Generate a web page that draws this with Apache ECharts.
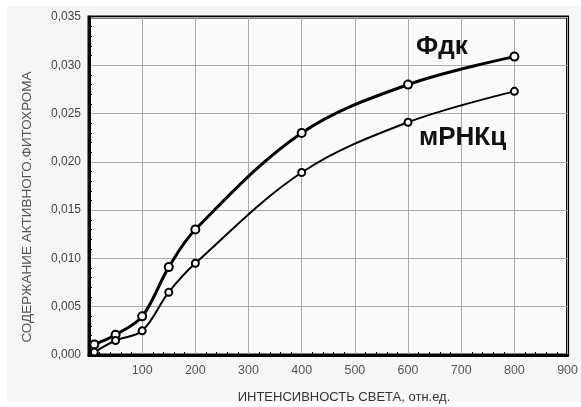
<!DOCTYPE html>
<html><head><meta charset="utf-8">
<script src="https://cdn.jsdelivr.net/npm/echarts@6/dist/echarts.min.js"></script>
<style>html,body{margin:0;padding:0;background:#fff}#c{width:581px;height:407px}</style>
</head><body><div id="c"></div>
<script>
const xValues = [10, 50, 100, 150, 200, 400, 600, 800];
const fdk = [0.0011, 0.0021, 0.0040, 0.0091, 0.0130, 0.0230, 0.0280, 0.0309];
const mrnk = [0.0003, 0.0015, 0.0025, 0.0065, 0.0095, 0.0189, 0.0241, 0.0273];
const seriesNames = ['Фдк', 'мРНКц'];
const xTitle = 'ИНТЕНСИВНОСТЬ СВЕТА, отн.ед.';
const yTitle = 'СОДЕРЖАНИЕ АКТИВНОГО.ФИТОХРОМА';

const chart = echarts.init(document.getElementById('c'), null, {renderer: 'canvas'});
const pair = arr => xValues.map((x, i) => [x, arr[i]]);
const font = 'Liberation Sans, Arial, sans-serif';
chart.setOption({
  animation: false,
  backgroundColor: 'transparent',
  grid: {left: 89, right: 9, top: 17, bottom: 52, show: true, borderColor: '#000', borderWidth: 3, backgroundColor: '#fafafa'},
  xAxis: {
    type: 'value', min: 0, max: 900, interval: 100,
    axisLine: {show: true, lineStyle: {color: '#000', width: 3}},
    axisTick: {show: false, inside: true},
    minorTick: {show: true, splitNumber: 5, length: 3, lineStyle: {color: '#000'}},
    axisLabel: {fontFamily: font, fontSize: 12.5, color: '#555', margin: 9,
      formatter: v => v === 0 ? '' : String(v)},
    splitLine: {show: true, lineStyle: {color: '#aaa', width: 1}}
  },
  yAxis: {
    type: 'value', min: 0, max: 0.035, interval: 0.005,
    axisLine: {show: true, lineStyle: {color: '#000', width: 3}},
    axisTick: {show: false, inside: true},
    minorTick: {show: true, splitNumber: 5, length: 3, lineStyle: {color: '#000'}},
    axisLabel: {fontFamily: font, fontSize: 12, color: '#444', margin: 8,
      formatter: v => v.toFixed(3).replace('.', ',')},
    splitLine: {show: true, lineStyle: {color: '#aaa', width: 1}}
  },
  graphic: [
    {type: 'rect', z: -10, silent: true, shape: {x: 7, y: 6, width: 574, height: 395}, style: {fill: '#f6f6f6'}},
    {type: 'text', x: 344, y: 397, z: 100, style: {text: xTitle, font: '13px ' + font, fill: '#333', align: 'center', verticalAlign: 'middle'}},
    {type: 'text', x: 27, y: 207, rotation: Math.PI / 2, z: 100, style: {text: yTitle, font: '13.5px ' + font, fill: '#555', align: 'center', verticalAlign: 'middle'}},
    {type: 'text', left: 416, top: 34, z: 100, style: {text: seriesNames[0], font: 'bold 26px ' + font, fill: '#111'}},
    {type: 'text', left: 419, top: 125, z: 100, style: {text: seriesNames[1], font: 'bold 26px ' + font, fill: '#111'}}
  ],
  series: [
    {name: seriesNames[0], type: 'line', data: pair(fdk), smooth: 0.35,
      symbol: 'emptyCircle', symbolSize: 8,
      lineStyle: {color: '#000', width: 3}, itemStyle: {color: '#000', borderWidth: 1.5}},
    {name: seriesNames[1], type: 'line', data: pair(mrnk), smooth: 0.35,
      symbol: 'emptyCircle', symbolSize: 7,
      lineStyle: {color: '#000', width: 2}, itemStyle: {color: '#000', borderWidth: 1.5}}
  ]
});
</script></body></html>
